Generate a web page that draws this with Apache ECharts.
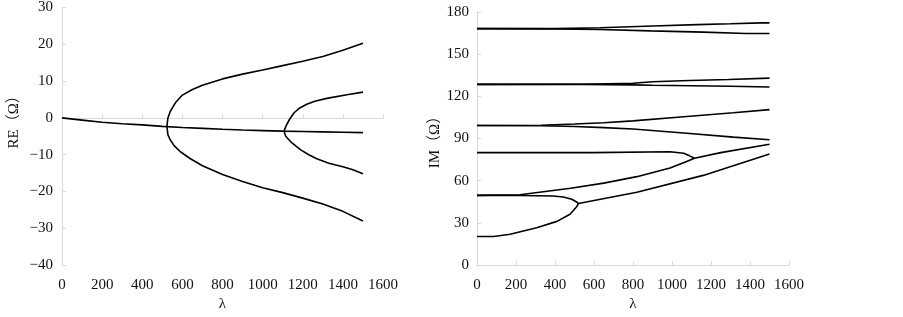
<!DOCTYPE html>
<html>
<head>
<meta charset="utf-8">
<script src="https://cdn.jsdelivr.net/npm/echarts@6/dist/echarts.min.js"></script>
<style>
  html, body { margin: 0; padding: 0; background: #fff; }
  #chart { width: 903px; height: 317px; }
</style>
</head>
<body>
<div id="chart"></div>
<script>
// axis ticks
const lambdaTicks = [0, 200, 400, 600, 800, 1000, 1200, 1400, 1600]
const reTicks = [-40, -30, -20, -10, 0, 10, 20, 30]
const imTicks = [0, 30, 60, 90, 120, 150, 180]

// RE(Ω) : [lambda, value]
const reMain = [[0, 0], [100, -0.6], [200, -1.2], [300, -1.6], [400, -1.9], [500, -2.3], [600, -2.6],
  [700, -2.85], [800, -3.1], [900, -3.3], [1000, -3.45], [1100, -3.6], [1200, -3.7], [1300, -3.8],
  [1400, -3.9], [1500, -4.0]]
const reSplit1 = [[1500, 20.3], [1400, 18.4], [1300, 16.7], [1200, 15.4], [1100, 14.2], [1000, 13.0],
  [900, 11.9], [800, 10.6], [700, 8.9], [650, 7.7], [600, 6.2], [565, 4.1], [540, 1.8], [528, 0], [523, -2.3],
  [528, -4.6], [540, -6.0], [560, -7.6], [590, -9.2], [640, -11.1], [700, -13.0], [800, -15.4],
  [900, -17.3], [1000, -19.0], [1100, -20.3], [1200, -21.8], [1300, -23.4], [1400, -25.4], [1500, -28.0]]
const reSplit2 = [[1500, 7.0], [1420, 6.3], [1320, 5.3], [1260, 4.5], [1220, 3.7], [1185, 2.7], [1157, 1.4],
  [1135, -0.3], [1118, -2.0], [1107, -3.6], [1115, -5.0], [1140, -6.5], [1190, -8.7], [1230, -10.0],
  [1270, -11.1], [1330, -12.3], [1400, -13.3], [1450, -14.1], [1500, -15.2]]

// IM(Ω) : [lambda, value]
const im168a = [[0, 168.2], [400, 168.2], [630, 168.8], [900, 170.0], [1130, 171.0], [1300, 171.6], [1460, 172.3], [1500, 172.3]]
const im168b = [[0, 168.2], [400, 168.0], [630, 167.6], [890, 166.6], [1160, 165.7], [1380, 164.7], [1500, 164.7]]
const im128a = [[0, 128.5], [540, 128.6], [800, 129.3], [900, 130.4], [1090, 131.3], [1290, 132.0], [1500, 133.0]]
const im128b = [[0, 128.5], [540, 128.5], [800, 128.2], [900, 127.9], [1300, 127.2], [1500, 126.7]]
const im99a = [[0, 99.3], [330, 99.5], [500, 100.3], [650, 101.2], [800, 102.6], [1060, 105.5], [1315, 108.3], [1500, 110.6]]
const im99b = [[0, 99.3], [330, 99.1], [500, 98.6], [650, 97.8], [800, 96.8], [1060, 94.0], [1315, 91.0], [1500, 89.2]]
const im80 = [[0, 80.0], [590, 80.0], [600, 80.6], [990, 80.6], [1060, 79.5], [1090, 77.7], [1115, 76.0],
  [1250, 80.0], [1500, 86.0]]
const im50a = [[0, 49.6], [220, 50.0], [480, 54.6], [650, 58.3], [820, 62.9], [990, 69.1], [1075, 73.7], [1115, 76.0]]
const im20 = [[0, 20.3], [85, 20.3], [170, 21.9], [306, 26.5], [410, 31.1], [477, 36.2], [511, 41.5], [520, 43.8],
  [820, 51.8], [1160, 63.8], [1330, 71.4], [1500, 79.0]]
const im50b = [[0, 49.6], [220, 49.5], [390, 49.1], [443, 48.4], [486, 46.8], [511, 44.9], [520, 43.8]]

const reSeries = [reMain, reSplit1, reSplit2]
const imSeries = [im168a, im168b, im128a, im128b, im99a, im99b, im80, im50a, im20, im50b]

const FONT = '"Liberation Serif", "Noto Sans CJK SC", serif'
const GRID_LINE = '#d9d9d9'

const minus = v => String(v).replace('-', '\u2212')
const plain = v => String(v)

const labelStyle = {
  color: '#111',
  fontFamily: FONT,
  fontSize: 15,
}

const lineSeries = (data, xi, yi) => ({
  type: 'line',
  data,
  xAxisIndex: xi,
  yAxisIndex: yi,
  symbol: 'none',
  showSymbol: false,
  lineStyle: { color: '#000', width: 1.6 },
  animation: false,
  silent: true,
})

const chart = echarts.init(document.getElementById('chart'))
chart.setOption({
  animation: false,
  grid: [
    { left: 62, right: 520, top: 7, bottom: 46 },
    { left: 477, right: 114, top: 12, bottom: 45 },
  ],
  xAxis: [
    // left: labels at the bottom
    {
      gridIndex: 0, type: 'value',
      min: lambdaTicks[0], max: lambdaTicks[lambdaTicks.length - 1], interval: 200,
      position: 'bottom',
      name: 'λ', nameLocation: 'middle', nameGap: 29,
      nameTextStyle: { ...labelStyle },
      axisLine: { show: false, onZero: false },
      axisTick: { show: false },
      axisLabel: { ...labelStyle, margin: 12, formatter: plain },
      splitLine: { show: false },
    },
    // left: axis line crossing at zero
    {
      gridIndex: 0, type: 'value',
      min: lambdaTicks[0], max: lambdaTicks[lambdaTicks.length - 1], interval: 200,
      position: 'bottom',
      axisLine: { show: true, onZero: true, lineStyle: { color: GRID_LINE } },
      axisTick: { show: true, inside: true, length: 4, lineStyle: { color: GRID_LINE } },
      axisLabel: { show: false },
      splitLine: { show: false },
    },
    {
      gridIndex: 1, type: 'value',
      min: lambdaTicks[0], max: lambdaTicks[lambdaTicks.length - 1], interval: 200,
      position: 'bottom',
      name: 'λ', nameLocation: 'middle', nameGap: 29,
      nameTextStyle: { ...labelStyle },
      axisLine: { show: true, lineStyle: { color: GRID_LINE } },
      axisTick: { show: true, inside: true, length: 4, lineStyle: { color: GRID_LINE } },
      axisLabel: { ...labelStyle, margin: 12, formatter: plain },
      splitLine: { show: false },
    },
  ],
  yAxis: [
    {
      gridIndex: 0, type: 'value',
      min: reTicks[0], max: reTicks[reTicks.length - 1], interval: 10,
      name: 'RE（Ω）', nameLocation: 'middle', nameGap: 40,
      nameTextStyle: { ...labelStyle, padding: [0, 0, 0, 36] },
      axisLine: { show: true, onZero: false, lineStyle: { color: GRID_LINE } },
      axisTick: { show: true, inside: true, length: 4, lineStyle: { color: GRID_LINE } },
      axisLabel: { ...labelStyle, margin: 9, formatter: minus },
      splitLine: { show: false },
    },
    {
      gridIndex: 1, type: 'value',
      min: imTicks[0], max: imTicks[imTicks.length - 1], interval: 30,
      name: 'IM（Ω）', nameLocation: 'middle', nameGap: 33,
      nameTextStyle: { ...labelStyle },
      axisLine: { show: true, onZero: false, lineStyle: { color: GRID_LINE } },
      axisTick: { show: true, inside: true, length: 4, lineStyle: { color: GRID_LINE } },
      axisLabel: { ...labelStyle, margin: 8 },
      splitLine: { show: false },
    },
  ],
  series: [
    ...reSeries.map(d => lineSeries(d, 0, 0)),
    ...imSeries.map(d => lineSeries(d, 2, 1)),
  ],
})
</script>
</body>
</html>
